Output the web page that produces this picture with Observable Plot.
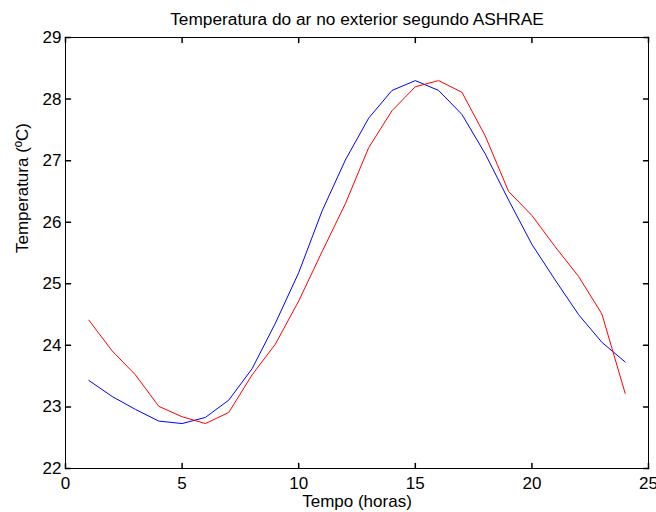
<!DOCTYPE html>
<html><head><meta charset="utf-8">
<script src="https://cdn.jsdelivr.net/npm/d3@7"></script>
<script src="https://cdn.jsdelivr.net/npm/@observablehq/plot@0.6"></script>
<style>body{margin:0;background:#fff;} svg{overflow:visible}</style>
</head><body><div id="chart"></div>
<script>
const hours = [1,2,3,4,5,6,7,8,9,10,11,12,13,14,15,16,17,18,19,20,21,22,23,24];
const blue = [23.43,23.17,22.96,22.77,22.73,22.83,23.11,23.62,24.36,25.18,26.18,27.01,27.69,28.14,28.30,28.14,27.75,27.11,26.36,25.64,25.06,24.50,24.05,23.73];
const red  = [24.41,23.91,23.52,23.01,22.84,22.73,22.91,23.52,24.02,24.72,25.52,26.30,27.21,27.81,28.20,28.30,28.11,27.40,26.50,26.11,25.60,25.12,24.51,23.22];
const xTicks = [0,5,10,15,20,25];
const yTicks = [22,23,24,25,26,27,28,29];
const title = "Temperatura do ar no exterior segundo ASHRAE";
const xLabel = "Tempo (horas)";
const yLabel = "Temperatura (ºC)";

const seriesBlue = hours.map((h,i)=>({h, v: blue[i]}));
const seriesRed = hours.map((h,i)=>({h, v: red[i]}));
const tickShape = {draw(ctx, l) { ctx.moveTo(0,0); ctx.lineTo(0,-l); }};

const chart = Plot.plot({
  width: 656, height: 512,
  marginLeft: 65, marginRight: 8, marginTop: 37, marginBottom: 44,
  style: {fontFamily: "'Liberation Sans', Arial, sans-serif", fontSize: "17px", color: "#000", background: "#fff"},
  x: {domain: [0,25], ticks: xTicks},
  y: {domain: [22,29], ticks: yTicks},
  marks: [
    Plot.axisX(xTicks, {tickSize: 0, tickPadding: 8, label: null, fontSize: 17, tickFormat: d => String(d)}),
    Plot.axisY(yTicks, {tickSize: 0, tickPadding: 4, label: null, fontSize: 17, tickFormat: d => String(d)}),
    Plot.vector(xTicks, {x: d=>d, frameAnchor: "bottom", rotate: 0, length: 5, anchor: "start", shape: tickShape, stroke: "#000"}),
    Plot.vector(xTicks, {x: d=>d, frameAnchor: "top", rotate: 180, length: 5, anchor: "start", shape: tickShape, stroke: "#000"}),
    Plot.vector(yTicks, {y: d=>d, frameAnchor: "left", rotate: 90, length: 5, anchor: "start", shape: tickShape, stroke: "#000"}),
    Plot.vector(yTicks, {y: d=>d, frameAnchor: "right", rotate: 270, length: 5, anchor: "start", shape: tickShape, stroke: "#000"}),
    Plot.frame({stroke: "#000"}),
    Plot.line(seriesBlue, {x: "h", y: "v", stroke: "#0000ff", strokeWidth: 1}),
    Plot.line(seriesRed, {x: "h", y: "v", stroke: "#ff0000", strokeWidth: 1}),
    Plot.text([title], {frameAnchor: "top", dy: -25, fontSize: 17.3}),
    Plot.text([xLabel], {frameAnchor: "bottom", dy: 38, fontSize: 17}),
    Plot.text([yLabel], {frameAnchor: "left", dx: -43, rotate: -90, fontSize: 17})
  ]
});
document.getElementById("chart").appendChild(chart);
</script></body></html>
